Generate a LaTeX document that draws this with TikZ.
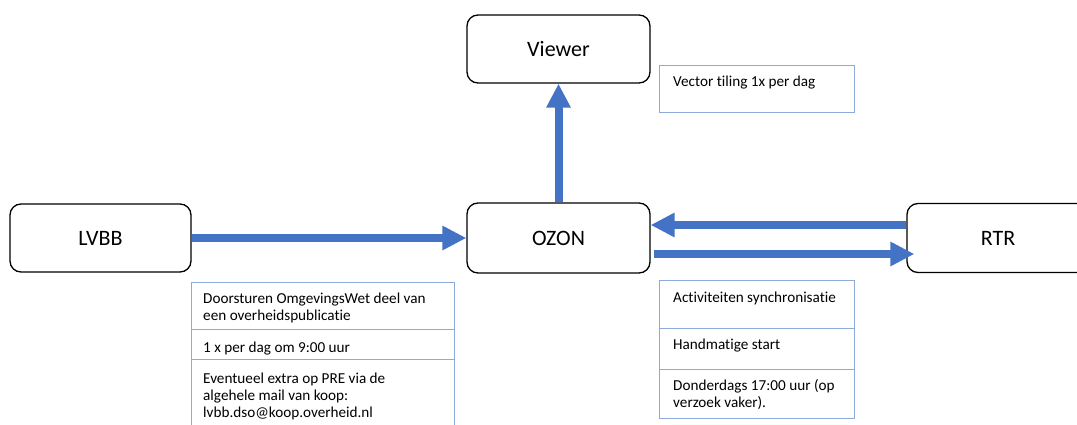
\documentclass[tikz,border=0pt]{standalone}
\usepackage{fontspec}
\setmainfont{Carlito}[Ligatures=NoCommon]
\usetikzlibrary{arrows.meta}
\definecolor{arrblue}{HTML}{4472C4}
\definecolor{tblblue}{HTML}{8EAADB}
\tikzset{
  sysbox/.style={draw=black, line width=1.3pt, rounded corners=11pt, fill=white,
    font=\fontsize{22}{26}\selectfont, inner sep=0pt},
  flow/.style={draw=arrblue, line width=8pt,
    -{Triangle[width=23pt,length=24pt]}},
  tbl/.style={draw=tblblue, line width=1pt},
  ctext/.style={anchor=base west, inner sep=0pt, font=\fontsize{15.2}{17}\selectfont}
}
\begin{document}
\begin{tikzpicture}[x=1pt,y=-1pt]
\useasboundingbox[fill=white] (0,0) rectangle (1077,425);

% system boxes
\node[sysbox, minimum width=181pt, minimum height=68pt] (lvbb) at (100.5,238) {LVBB};
\node[sysbox, minimum width=183pt, minimum height=70pt] (ozon) at (558.5,238) {OZON};
\node[sysbox, minimum width=183pt, minimum height=68pt] (viewer) at (558.5,49) {Viewer};
\node[sysbox, minimum width=182pt, minimum height=69pt] (rtr) at (998,238) {RTR};

% connectors
\draw[flow] (lvbb.east) -- (ozon.west);
\draw[flow] (ozon.north) -- (viewer.south);
\draw[flow] ([yshift=13pt]rtr.west) -- ([yshift=13pt]ozon.east);
\draw[flow] ([xshift=3pt,yshift=-16pt]ozon.east) -- ([xshift=8pt,yshift=-16pt]rtr.west);

% vector tiling box
\draw[tbl] (659,66) rectangle (854,113);
\node[ctext] (vt) at (673,87) {Vector tiling 1x per dag};

% LVBB table
\draw[tbl] (191,440) -- (191,282) -- (454,282) -- (454,440);
\draw[tbl] (191,329) -- (454,329);
\draw[tbl] (191,359) -- (454,359);
\node[ctext] (l1a) at (203,303) {Doorsturen OmgevingsWet deel van};
\node[ctext] (l1b) at (203,320) {een overheidspublicatie};
\node[ctext] (l2) at (203,352) {1 x per dag om 9:00 uur};
\node[ctext] (l3a) at (203,383) {Eventueel extra op PRE via de};
\node[ctext] (l3b) at (203,400) {algehele mail van koop:};
\node[ctext] (l3c) at (203,417) {lvbb.dso@koop.overheid.nl};

% RTR table
\draw[tbl] (659,280) rectangle (854,418);
\draw[tbl] (659,328) -- (854,328);
\draw[tbl] (659,369) -- (854,369);
\node[ctext] (r1) at (673,302) {Activiteiten synchronisatie};
\node[ctext] (r2) at (673,349) {Handmatige start};
\node[ctext] (r3a) at (673,390) {Donderdags 17:00 uur (op};
\node[ctext] (r3b) at (673,407) {verzoek vaker).};
\end{tikzpicture}
\end{document}
